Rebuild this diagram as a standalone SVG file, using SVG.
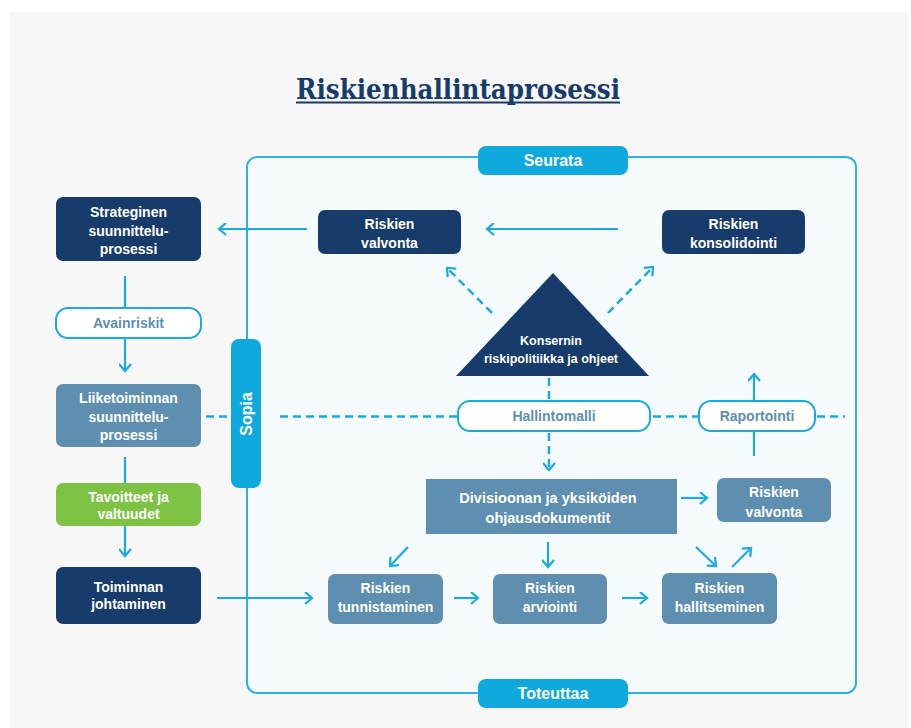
<svg xmlns="http://www.w3.org/2000/svg" width="911" height="728" viewBox="0 0 911 728">
<style>
.t{font-family:"Liberation Sans",Arial,sans-serif;font-weight:bold;fill:#fff;text-anchor:middle}
.p{fill:#5e8fb0}
.navy{fill:#173b6b}
.steel{fill:#5e8fb0}
.pill{fill:#fff;stroke:#1aaae0;stroke-width:2}
.tab{fill:#0fa9dd}
.ln{fill:none;stroke:#1aaae0;stroke-width:2.2}
.dash{fill:none;stroke:#1aaae0;stroke-width:2.5;stroke-dasharray:8 5}
</style>
<defs>
<marker id="ah" viewBox="0 0 13 13" refX="10" refY="6.5" markerWidth="13" markerHeight="13" orient="auto" markerUnits="userSpaceOnUse">
<path d="M3,0.5 L10,6.5 L3,12.5" fill="none" stroke="#1aaae0" stroke-width="2.2" stroke-dasharray="none"/>
</marker>
</defs>
<rect x="0" y="0" width="911" height="728" fill="#fff"/>
<rect x="10" y="12" width="898" height="716" fill="#f7f7f7"/>
<g id="title">
<text x="458" y="99" font-family="'DejaVu Serif','Liberation Serif',serif" font-weight="bold" font-size="27" fill="#173b6b" text-anchor="middle" textLength="324" lengthAdjust="spacingAndGlyphs">Riskienhallintaprosessi</text>
<rect x="296" y="101.5" width="324" height="2" fill="#173b6b"/>
</g>
<g id="frame">
<rect x="247" y="157" width="609" height="536" rx="10" fill="#f5fafd" stroke="#2bb3e3" stroke-width="2"/>
</g>
<g id="connectors">
<line class="ln" x1="307" y1="229" x2="219" y2="229" marker-end="url(#ah)"/>
<line class="ln" x1="618" y1="229" x2="487" y2="229" marker-end="url(#ah)"/>
<line class="ln" x1="125" y1="276" x2="125" y2="308"/>
<line class="ln" x1="125" y1="338" x2="125" y2="371" marker-end="url(#ah)"/>
<line class="ln" x1="125" y1="457" x2="125" y2="483"/>
<line class="ln" x1="125" y1="526" x2="125" y2="556" marker-end="url(#ah)"/>
<line class="ln" x1="217" y1="598" x2="312" y2="598" marker-end="url(#ah)"/>
<line class="dash" x1="492" y1="313" x2="447" y2="268" marker-end="url(#ah)"/>
<line class="dash" x1="608" y1="313" x2="653" y2="267" marker-end="url(#ah)"/>
<line class="dash" x1="549" y1="378" x2="549" y2="401"/>
<line class="dash" x1="549" y1="433" x2="549" y2="470" marker-end="url(#ah)"/>
<line class="dash" x1="206" y1="416.5" x2="229" y2="416.5"/>
<line class="dash" x1="280" y1="416.5" x2="457" y2="416.5"/>
<line class="dash" x1="653" y1="416.5" x2="699" y2="416.5"/>
<line class="dash" x1="817" y1="416.5" x2="845" y2="416.5"/>
<line class="ln" x1="754" y1="456" x2="754" y2="374" marker-end="url(#ah)"/>
<line class="ln" x1="681" y1="498" x2="707" y2="498" marker-end="url(#ah)"/>
<line class="ln" x1="548" y1="542" x2="548" y2="567" marker-end="url(#ah)"/>
<line class="ln" x1="408" y1="547" x2="390" y2="566" marker-end="url(#ah)"/>
<line class="ln" x1="454" y1="598" x2="478" y2="598" marker-end="url(#ah)"/>
<line class="ln" x1="622" y1="598" x2="647" y2="598" marker-end="url(#ah)"/>
<line class="ln" x1="696" y1="547" x2="716" y2="566" marker-end="url(#ah)"/>
<line class="ln" x1="732" y1="567" x2="751" y2="548" marker-end="url(#ah)"/>
</g>
<g id="seurata">
<rect class="tab" x="478" y="146" width="150" height="29" rx="8"/>
<text class="t" x="553" y="166" font-size="16">Seurata</text>
</g>
<g id="toteuttaa">
<rect class="tab" x="478" y="679" width="150" height="29" rx="8"/>
<text class="t" x="553" y="699" font-size="16">Toteuttaa</text>
</g>
<g id="sopia">
<rect class="tab" x="231" y="339" width="30" height="149" rx="8"/>
<text class="t" x="0" y="0" font-size="16" transform="translate(252,414) rotate(-90)">Sopia</text>
</g>
<g id="strateginen">
<rect class="navy" x="56" y="197" width="145" height="64" rx="7"/>
<text class="t" font-size="14" x="128.5" y="217">Strateginen</text>
<text class="t" font-size="14" x="128.5" y="235.5">suunnittelu-</text>
<text class="t" font-size="14" x="128.5" y="254">prosessi</text>
</g>
<g id="avainriskit">
<rect class="pill" x="56" y="308" width="145" height="30" rx="12"/>
<text class="t p" font-size="14" x="128.5" y="328">Avainriskit</text>
</g>
<g id="liiketoiminnan">
<rect class="steel" x="56" y="384" width="145" height="63" rx="7"/>
<text class="t" font-size="14" x="128.5" y="403">Liiketoiminnan</text>
<text class="t" font-size="14" x="128.5" y="421.5">suunnittelu-</text>
<text class="t" font-size="14" x="128.5" y="440">prosessi</text>
</g>
<g id="tavoitteet">
<rect x="56" y="483" width="145" height="43" rx="7" fill="#7dc243"/>
<text class="t" font-size="14" x="128.5" y="502">Tavoitteet ja</text>
<text class="t" font-size="14" x="128.5" y="518.5">valtuudet</text>
</g>
<g id="toiminnan">
<rect class="navy" x="56" y="567" width="145" height="57" rx="7"/>
<text class="t" font-size="14" x="128.5" y="592">Toiminnan</text>
<text class="t" font-size="14" x="128.5" y="608.5">johtaminen</text>
</g>
<g id="valvonta-top">
<rect class="navy" x="318" y="210" width="143" height="44" rx="7"/>
<text class="t" font-size="14" x="389.5" y="229">Riskien</text>
<text class="t" font-size="14" x="389.5" y="248">valvonta</text>
</g>
<g id="konsolidointi">
<rect class="navy" x="662" y="210" width="143" height="44" rx="7"/>
<text class="t" font-size="14" x="733.5" y="229">Riskien</text>
<text class="t" font-size="14" x="733.5" y="248">konsolidointi</text>
</g>
<g id="konserni">
<polygon class="navy" points="553,273 649,376 456,376"/>
<text class="t" font-size="12.5" x="551" y="345">Konsernin</text>
<text class="t" font-size="12.5" x="551" y="363">riskipolitiikka ja ohjeet</text>
</g>
<g id="hallintomalli">
<rect class="pill" x="458" y="401" width="192" height="30" rx="12"/>
<text class="t p" font-size="14" x="554" y="421">Hallintomalli</text>
</g>
<g id="raportointi">
<rect class="pill" x="699" y="401" width="116" height="30" rx="12"/>
<text class="t p" font-size="14" x="757" y="421">Raportointi</text>
</g>
<g id="divisioonan">
<rect class="steel" x="426" y="479" width="251" height="55"/>
<text class="t" font-size="14.5" x="548" y="503">Divisioonan ja yksiköiden</text>
<text class="t" font-size="14.5" x="548" y="523">ohjausdokumentit</text>
</g>
<g id="valvonta-bottom">
<rect class="steel" x="717" y="478" width="114" height="44" rx="7"/>
<text class="t" font-size="14" x="774" y="497">Riskien</text>
<text class="t" font-size="14" x="774" y="517">valvonta</text>
</g>
<g id="tunnistaminen">
<rect class="steel" x="328" y="574" width="115" height="50" rx="7"/>
<text class="t" font-size="14" x="385.5" y="593">Riskien</text>
<text class="t" font-size="14" x="385.5" y="612">tunnistaminen</text>
</g>
<g id="arviointi">
<rect class="steel" x="493" y="574" width="114" height="50" rx="7"/>
<text class="t" font-size="14" x="550" y="593">Riskien</text>
<text class="t" font-size="14" x="550" y="612">arviointi</text>
</g>
<g id="hallitseminen">
<rect class="steel" x="662" y="573" width="115" height="51" rx="7"/>
<text class="t" font-size="14" x="719.5" y="593">Riskien</text>
<text class="t" font-size="14" x="719.5" y="612">hallitseminen</text>
</g>
</svg>
